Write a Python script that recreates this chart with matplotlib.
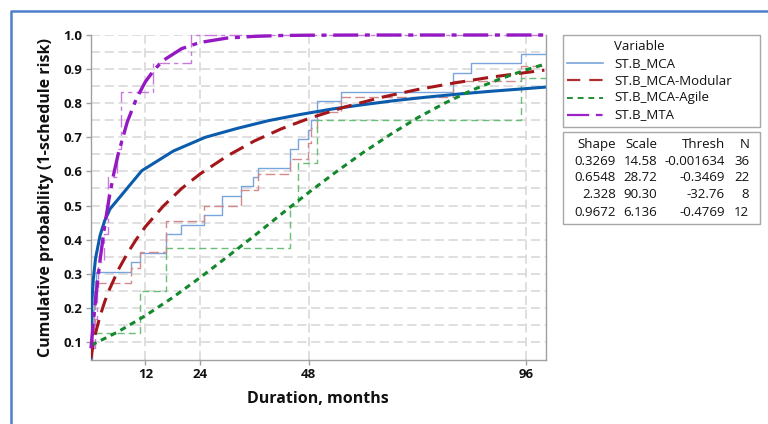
import numpy as np
import matplotlib
matplotlib.use("Agg")
import matplotlib.pyplot as plt
from matplotlib.lines import Line2D
from matplotlib.patches import Rectangle

plt.rcParams['font.family'] = ['Open Sans', 'DejaVu Sans']

# ---- fitted 3-parameter Weibull CDFs ----
mca_fit_x = [0.002, 0.01, 0.05, 0.2, 0.5, 1, 2, 3, 4.2, 11.2, 18.2, 25.2, 32.2,
             39.2, 46.2, 53.2, 60.2, 67.2, 74.2, 81.2, 88.2, 95.2, 100]
mca_fit_y = [0.053, 0.088, 0.145, 0.218, 0.282, 0.345, 0.412, 0.455, 0.490, 0.602,
             0.660, 0.700, 0.726, 0.749, 0.767, 0.783, 0.796, 0.808, 0.818, 0.827,
             0.835, 0.842, 0.847]

mod_fit_x = [0, 0.5, 1, 2, 3, 4, 6, 8, 10, 12, 16, 20, 24, 30, 36, 42, 48, 56,
             64, 72, 80, 88, 96, 100]
mod_fit_y = [0.054, 0.095, 0.126, 0.176, 0.217, 0.252, 0.311, 0.359, 0.401, 0.438,
             0.499, 0.550, 0.592, 0.645, 0.689, 0.725, 0.755, 0.789, 0.817, 0.840,
             0.859, 0.876, 0.890, 0.897]

agile_fit_x = [0, 6, 12, 18, 24, 30, 36, 42, 48, 54, 60, 66, 72, 78, 84, 90, 96, 100]
agile_fit_y = [0.090, 0.130, 0.177, 0.230, 0.288, 0.349, 0.411, 0.475, 0.538, 0.598,
               0.655, 0.708, 0.757, 0.800, 0.838, 0.870, 0.898, 0.914]

mta_fit_x = [0, 0.5, 1, 1.5, 2, 3, 4, 5, 6, 8, 10, 12, 14, 16, 20, 24, 30, 36,
             42, 48, 60, 100]
mta_fit_y = [0.081, 0.156, 0.223, 0.284, 0.340, 0.439, 0.522, 0.592, 0.651, 0.745,
             0.813, 0.863, 0.899, 0.926, 0.960, 0.978, 0.991, 0.996, 0.9985, 0.9994,
             0.9999, 1.0]

# ---- empirical step CDFs ----
mca_emp_x = [0.05, 0.1, 0.15, 0.2, 0.3, 0.4, 0.5, 0.6, 0.7, 0.9, 1.1, 8.75, 10.9,
             16.6, 19.9, 25.0, 28.8, 33.0, 35.8, 36.9, 43.9, 45.7, 47.9, 48.6, 49.8,
             55.1, 79.9, 83.9, 94.9, 100.3]
mca_emp_y = [0.028, 0.056, 0.083, 0.111, 0.139, 0.167, 0.194, 0.222, 0.250, 0.278,
             0.306, 0.333, 0.361, 0.417, 0.444, 0.472, 0.528, 0.556, 0.583, 0.611,
             0.667, 0.694, 0.722, 0.750, 0.806, 0.833, 0.889, 0.917, 0.944, 0.944]

mod_emp_x = [0.1, 0.3, 0.5, 0.7, 0.9, 1.1, 8.75, 10.9, 16.6, 25.0, 33.0, 36.9,
             43.9, 47.9, 48.6, 49.9, 55.1, 79.9, 94.9, 100.3]
mod_emp_y = [0.045, 0.091, 0.136, 0.182, 0.227, 0.273, 0.318, 0.364, 0.455, 0.500,
             0.545, 0.591, 0.636, 0.682, 0.727, 0.773, 0.818, 0.864, 0.909, 0.909]

agile_emp_x = [0.8, 10.9, 16.6, 44.0, 45.7, 49.9, 94.9, 100.3]
agile_emp_y = [0.125, 0.250, 0.375, 0.500, 0.625, 0.750, 0.875, 0.875]

mta_emp_x = [0.3, 0.8, 1.3, 1.6, 2.9, 3.75, 5.7, 6.7, 13.7, 22.0, 100.3]
mta_emp_y = [0.083, 0.167, 0.250, 0.333, 0.417, 0.583, 0.667, 0.833, 0.917, 1.0, 1.0]

# ---- legend / parameter table ----
variables = ['ST.B_MCA', 'ST.B_MCA-Modular', 'ST.B_MCA-Agile', 'ST.B_MTA']
table_header = ['Shape', 'Scale', 'Thresh', 'N']
shapes = ['0.3269', '0.6548', '2.328', '0.9672']
scales = ['14.58', '28.72', '90.30', '6.136']
threshs = ['-0.001634', '-0.3469', '-32.76', '-0.4769']
counts = ['36', '22', '8', '12']

x_ticks = [12, 24, 48, 96]
y_ticks = [0.1, 0.2, 0.3, 0.4, 0.5, 0.6, 0.7, 0.8, 0.9, 1.0]

W, H = 768, 424
fig = plt.figure(figsize=(W / 100, H / 100), dpi=100)
fig.patch.set_facecolor('white')

# outer border (left and top edges visible)
fig.add_artist(Line2D([11 / W, 11 / W, 1.0], [0.0, 1 - 11 / H, 1 - 11 / H],
                      transform=fig.transFigure, color='#4f7fcc', lw=1.8))

ax = fig.add_axes([91 / W, 1 - 360 / H, (545.7 - 91) / W, (360 - 35) / H])
ax.set_xlim(0, 100.3)
ax.set_ylim(0.047, 1.0)

grid_kw = dict(color='#d6d6d6', lw=1.1, dashes=(6, 3), zorder=0)
for v in np.arange(0.1, 1.0001, 0.05):
    ax.axhline(v, **grid_kw)
for v in x_ticks:
    ax.axvline(v, **grid_kw)

# empirical steps (thin)
ax.plot(mca_emp_x, mca_emp_y, drawstyle='steps-post', color='#79a5dc', lw=1.0, zorder=2)
ax.plot(mod_emp_x, mod_emp_y, drawstyle='steps-post', color='#d28a8a', lw=1.0,
        dashes=(7, 3), zorder=2)
ax.plot(agile_emp_x, agile_emp_y, drawstyle='steps-post', color='#69bf78', lw=1.0,
        dashes=(5, 3), zorder=2)
ax.plot(mta_emp_x, mta_emp_y, drawstyle='steps-post', color='#c67ade', lw=1.0,
        dashes=(9, 3, 3, 3), zorder=2, clip_on=False)

# fitted curves (thick)
ax.plot(mca_fit_x, mca_fit_y, color='#0b5cad', lw=2.2, zorder=4)
ax.plot(mod_fit_x, mod_fit_y, color='#a3161a', lw=2.2, dashes=(5, 2.6), zorder=4)
ax.plot(agile_fit_x, agile_fit_y, color='#14882c', lw=2.2, dashes=(2, 1.6), zorder=4)
ax.plot(mta_fit_x, mta_fit_y, color='#9419c2', lw=2.4, dashes=(7.5, 2, 1.5, 2),
        zorder=5, clip_on=False)

for s in ['left', 'bottom', 'right']:
    ax.spines[s].set_color('#a0a0a0')
    ax.spines[s].set_linewidth(1.0)
ax.spines['top'].set_visible(False)

ax.set_xticks(x_ticks)
ax.set_xticklabels([str(t) for t in x_ticks])
ax.set_yticks(y_ticks)
ax.set_yticklabels([f'{t:.1f}' for t in y_ticks])
ax.tick_params(axis='both', length=3.5, width=1.0, color='#a0a0a0',
               labelsize=9.5, pad=2.5, labelcolor='#111111')
for lab in ax.get_xticklabels() + ax.get_yticklabels():
    lab.set_fontweight('bold')

ax.set_xlabel('Duration, months', fontsize=11.5, fontweight='bold', labelpad=7,
              color='#111111')
ax.set_ylabel('Cumulative probability (1-schedule risk)', fontsize=11.5,
              fontweight='bold', labelpad=7, color='#111111')

# legend box
def fx(px):
    return px / W

def fy(py):
    return 1 - py / H

fig.add_artist(Rectangle((fx(562.7), fy(126.7)), fx(760) - fx(562.7), fy(35) - fy(126.7),
                         transform=fig.transFigure, fill=False, ec='#a8a8a8', lw=1.0))
fig.add_artist(Rectangle((fx(562.7), fy(224)), fx(760) - fx(562.7), fy(131.7) - fy(224),
                         transform=fig.transFigure, fill=False, ec='#a8a8a8', lw=1.0))

fig.text(fx(614), fy(46), 'Variable', fontsize=9.5, va='center', ha='left', color='#111111')
legend_styles = [
    dict(color='#79a5dc', lw=1.2),
    dict(color='#b03030', lw=1.6, dashes=(6, 4)),
    dict(color='#1f8f35', lw=1.4, dashes=(3, 2.5)),
    dict(color='#9a22c8', lw=1.6, dashes=(10, 3, 3, 3)),
]
legend_rows = [63.3, 80.3, 97.7, 115.0]
for name, st, py in zip(variables, legend_styles, legend_rows):
    fig.add_artist(Line2D([fx(567), fx(603)], [fy(py), fy(py)],
                          transform=fig.transFigure, **st))
    fig.text(fx(614), fy(py), name, fontsize=9.5, va='center', ha='left', color='#111111')

col_right = [616, 657.3, 725, 749.3]
for h, cx in zip(table_header, col_right):
    fig.text(fx(cx), fy(144.3), h, fontsize=9.5, va='center', ha='right', color='#111111')
table_rows = [161.3, 177.7, 195.0, 212.3]
for i, py in enumerate(table_rows):
    for val, cx in zip([shapes[i], scales[i], threshs[i], counts[i]], col_right):
        fig.text(fx(cx), fy(py), val, fontsize=9.5, va='center', ha='right', color='#111111')

fig.savefig('out.png', dpi=100, facecolor='white')
